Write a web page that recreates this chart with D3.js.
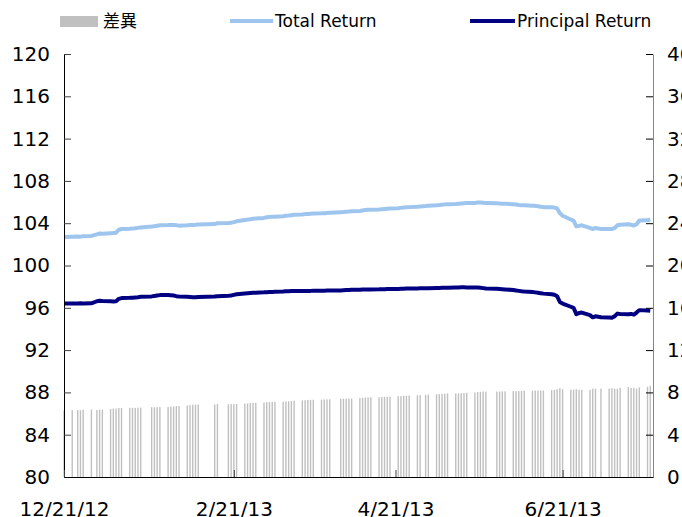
<!DOCTYPE html>
<html>
<head>
<meta charset="utf-8">
<script src="https://cdn.jsdelivr.net/npm/d3@7"></script>
<style>
  body { margin: 0; background: #fff; }
  svg text { font-family: "DejaVu Sans", "Noto Sans CJK TC", sans-serif; fill: #000; }
</style>
</head>
<body>
<script>
// trading days (one row per week)
const dates = [
  "12/21/12",
  "12/24/12","12/26/12","12/27/12","12/28/12",
  "12/31/12","1/2/13","1/3/13","1/4/13",
  "1/7/13","1/8/13","1/9/13","1/10/13","1/11/13",
  "1/14/13","1/15/13","1/16/13","1/17/13","1/18/13",
  "1/22/13","1/23/13","1/24/13","1/25/13",
  "1/28/13","1/29/13","1/30/13","1/31/13","2/1/13",
  "2/4/13","2/5/13","2/6/13","2/7/13","2/8/13",
  "2/14/13","2/15/13",
  "2/19/13","2/20/13","2/21/13","2/22/13",
  "2/25/13","2/26/13","2/27/13","2/28/13","3/1/13",
  "3/4/13","3/5/13","3/6/13","3/7/13","3/8/13",
  "3/11/13","3/12/13","3/13/13","3/14/13","3/15/13",
  "3/18/13","3/19/13","3/20/13","3/21/13","3/22/13",
  "3/25/13","3/26/13","3/27/13","3/28/13",
  "4/1/13","4/2/13","4/3/13","4/4/13","4/5/13",
  "4/8/13","4/9/13","4/10/13","4/11/13","4/12/13",
  "4/15/13","4/16/13","4/17/13","4/18/13","4/19/13",
  "4/22/13","4/23/13","4/24/13","4/25/13","4/26/13",
  "4/29/13","4/30/13","5/2/13","5/3/13",
  "5/6/13","5/7/13","5/8/13","5/9/13","5/10/13",
  "5/13/13","5/14/13","5/15/13","5/16/13","5/17/13",
  "5/20/13","5/21/13","5/22/13","5/23/13","5/24/13",
  "5/28/13","5/29/13","5/30/13","5/31/13",
  "6/3/13","6/4/13","6/5/13","6/6/13","6/7/13",
  "6/10/13","6/11/13","6/12/13","6/13/13","6/14/13",
  "6/17/13","6/18/13","6/19/13","6/20/13","6/21/13",
  "6/24/13","6/25/13","6/26/13","6/27/13","6/28/13",
  "7/1/13","7/2/13","7/3/13","7/5/13",
  "7/8/13","7/9/13","7/10/13","7/11/13","7/12/13",
  "7/15/13","7/16/13","7/17/13","7/18/13","7/19/13",
  "7/22/13","7/23/13"
];

const totalReturn = [
  102.70,
  102.72, 102.74, 102.73, 102.76,
  102.80, 102.95, 103.03, 103.00,
  103.05, 103.07, 103.10, 103.38, 103.45,
  103.48, 103.50, 103.52, 103.56, 103.60,
  103.68, 103.72, 103.76, 103.80,
  103.82, 103.84, 103.83, 103.80, 103.77,
  103.80, 103.82, 103.83, 103.85, 103.88,
  103.92, 104.00,
  104.02, 104.05, 104.10, 104.18,
  104.30, 104.34, 104.38, 104.42, 104.44,
  104.50, 104.56, 104.58, 104.60, 104.62,
  104.66, 104.70, 104.72, 104.76, 104.80,
  104.82, 104.86, 104.88, 104.90, 104.92,
  104.93, 104.95, 104.97, 104.98,
  105.04, 105.06, 105.09, 105.10, 105.12,
  105.16, 105.20, 105.24, 105.27, 105.28,
  105.30, 105.32, 105.34, 105.36, 105.38,
  105.42, 105.45, 105.48, 105.50, 105.52,
  105.56, 105.58, 105.62, 105.66,
  105.70, 105.72, 105.75, 105.78, 105.80,
  105.82, 105.84, 105.86, 105.88, 105.90,
  105.92, 105.95, 105.96, 105.94, 105.90,
  105.88, 105.86, 105.85, 105.84,
  105.80, 105.76, 105.72, 105.70, 105.70,
  105.66, 105.64, 105.60, 105.56, 105.52,
  105.50, 105.48, 105.40, 104.95, 104.70,
  104.35, 104.25, 103.70, 103.75, 103.80,
  103.55, 103.45, 103.55, 103.45,
  103.45, 103.45, 103.55, 103.80, 103.85,
  103.90, 103.85, 103.78, 103.90, 104.25,
  104.27, 104.35
];

const principalReturn = [
  96.40,
  96.40, 96.41, 96.42, 96.40,
  96.42, 96.62, 96.66, 96.64,
  96.62, 96.60, 96.62, 96.85, 96.92,
  96.94, 96.96, 96.98, 97.00, 97.04,
  97.08, 97.12, 97.16, 97.20,
  97.20, 97.18, 97.16, 97.10, 97.06,
  97.04, 97.02, 97.00, 97.00, 97.02,
  97.06, 97.10,
  97.14, 97.16, 97.22, 97.28,
  97.36, 97.38, 97.40, 97.42, 97.43,
  97.46, 97.48, 97.50, 97.50, 97.52,
  97.54, 97.56, 97.56, 97.58, 97.58,
  97.58, 97.60, 97.60, 97.60, 97.62,
  97.62, 97.62, 97.63, 97.63,
  97.64, 97.66, 97.68, 97.68, 97.70,
  97.70, 97.72, 97.72, 97.74, 97.74,
  97.75, 97.76, 97.76, 97.78, 97.78,
  97.78, 97.80, 97.80, 97.82, 97.82,
  97.83, 97.84, 97.86, 97.86,
  97.88, 97.88, 97.89, 97.90, 97.90,
  97.92, 97.93, 97.94, 97.94, 97.93,
  97.93, 97.92, 97.90, 97.86, 97.82,
  97.80, 97.78, 97.76, 97.74,
  97.68, 97.64, 97.60, 97.56, 97.54,
  97.50, 97.46, 97.42, 97.38, 97.34,
  97.28, 97.24, 97.10, 96.55, 96.40,
  96.10, 96.00, 95.40, 95.50, 95.55,
  95.30, 95.10, 95.20, 95.10,
  95.08, 95.05, 95.20, 95.45, 95.42,
  95.40, 95.42, 95.35, 95.55, 95.78,
  95.74, 95.72
];

const leftTicks = [80, 84, 88, 92, 96, 100, 104, 108, 112, 116, 120];
const rightTicks = [0, 4, 8, 12, 16, 20, 24, 28, 32, 36, 40];
const xTickLabels = ["12/21/12", "2/21/13", "4/21/13", "6/21/13"];
const xEndLabel = "7/24/13";
const legendLabels = ["差異", "Total Return", "Principal Return"];

var parseDate = d3.timeParse("%m/%d/%y");

var draw = function() {
  let margin = {top: 54, right: 29, bottom: 40, left: 64},
      width = 682 - margin.left - margin.right,
      height = 517 - margin.top - margin.bottom;

  var svg = d3.select("body").append("svg")
      .attr("width", 682)
      .attr("height", 517);

  var g = svg.append("g")
      .attr("transform", "translate(" + margin.left + "," + margin.top + ")");

  let rows = dates.map(function(d, i) {
    return {
      date: parseDate(d),
      total: totalReturn[i],
      principal: principalReturn[i],
      diff: totalReturn[i] - principalReturn[i]
    };
  });

  var x = d3.scaleTime()
      .domain([parseDate(xTickLabels[0]), parseDate(xEndLabel)])
      .range([0, width]);

  var yLeft = d3.scaleLinear()
      .domain([80, 120])
      .range([height, 0]);

  var yRight = d3.scaleLinear()
      .domain([0, 40])
      .range([height, 0]);

  // difference bars
  g.selectAll(".bar")
      .data(rows)
    .enter().append("rect")
      .attr("class", "bar")
      .attr("x", function(d) { return x(d.date) - 0.7; })
      .attr("width", 1.4)
      .attr("y", function(d) { return yRight(d.diff); })
      .attr("height", function(d) { return yRight(0) - yRight(d.diff); })
      .attr("fill", "#c0c0c0");

  var lineTotal = d3.line()
      .x(function(d) { return x(d.date); })
      .y(function(d) { return yLeft(d.total); });

  var linePrincipal = d3.line()
      .x(function(d) { return x(d.date); })
      .y(function(d) { return yLeft(d.principal); });

  g.append("path")
      .datum(rows)
      .attr("fill", "none")
      .attr("stroke", "#9ec5ee")
      .attr("stroke-width", 4)
      .attr("stroke-linejoin", "round")
      .attr("d", lineTotal);

  g.append("path")
      .datum(rows)
      .attr("fill", "none")
      .attr("stroke", "#000080")
      .attr("stroke-width", 4)
      .attr("stroke-linejoin", "round")
      .attr("d", linePrincipal);

  // axes
  var leftAxis = g.append("g")
      .call(d3.axisLeft(yLeft)
        .tickValues(leftTicks)
        .tickSizeInner(-7)
        .tickSizeOuter(0)
        .tickPadding(14));
  leftAxis.select(".domain").attr("stroke", "#000");
  leftAxis.selectAll(".tick line").attr("stroke", "#404040");

  var rightAxis = g.append("g")
      .attr("transform", "translate(" + width + ",0)")
      .call(d3.axisRight(yRight)
        .tickValues(rightTicks)
        .tickSizeInner(-7)
        .tickSizeOuter(0)
        .tickPadding(14));
  rightAxis.select(".domain").attr("stroke", "#868686");
  rightAxis.selectAll(".tick line").attr("stroke", "#000");

  var bottomAxis = g.append("g")
      .attr("transform", "translate(0," + height + ")")
      .call(d3.axisBottom(x)
        .tickValues(xTickLabels.map(parseDate))
        .tickFormat(d3.timeFormat("%-m/%-d/%y"))
        .tickSizeInner(-7)
        .tickSizeOuter(0)
        .tickPadding(25));
  bottomAxis.select(".domain").attr("stroke", "#000");
  bottomAxis.selectAll(".tick line").attr("stroke", "#404040");

  svg.selectAll(".tick text")
      .attr("font-size", 20)
      .attr("font-family", "DejaVu Sans, sans-serif");

  // legend
  var legend = svg.append("g").attr("font-size", 17);

  legend.append("rect")
      .attr("x", 60).attr("y", 16)
      .attr("width", 38).attr("height", 11)
      .attr("fill", "#c0c0c0");
  legend.append("text")
      .attr("x", 103).attr("y", 27)
      .text(legendLabels[0]);

  legend.append("line")
      .attr("x1", 230).attr("x2", 273)
      .attr("y1", 21).attr("y2", 21)
      .attr("stroke", "#9ec5ee").attr("stroke-width", 4);
  legend.append("text")
      .attr("x", 275).attr("y", 27)
      .text(legendLabels[1]);

  legend.append("line")
      .attr("x1", 470).attr("x2", 515)
      .attr("y1", 21).attr("y2", 21)
      .attr("stroke", "#000080").attr("stroke-width", 4);
  legend.append("text")
      .attr("x", 517).attr("y", 27)
      .text(legendLabels[2]);
};

window.onload = function() {
  draw();
};
</script>
</body>
</html>
